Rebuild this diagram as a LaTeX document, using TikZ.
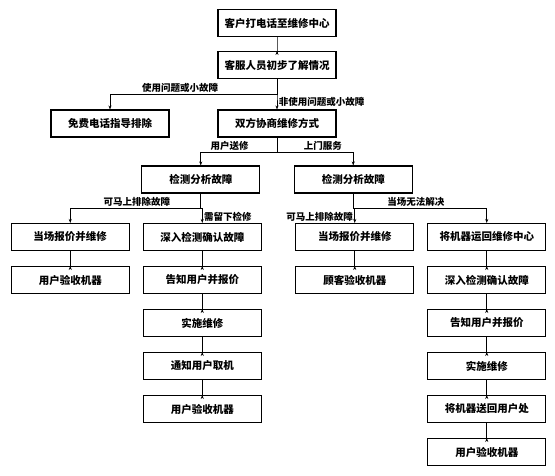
\documentclass[tikz,border=0pt]{standalone}
\usepackage{fontspec}
\setmainfont{Noto Sans CJK SC}
\usetikzlibrary{arrows.meta}

\tikzset{b/.style={draw,line width=1.1pt,minimum width=118pt,minimum height=27pt,inner sep=0pt,
  font=\bfseries\fontsize{10.5}{12}\selectfont}}
\tikzset{e/.style={inner sep=1.5pt,font=\bfseries\fontsize{9.5}{11}\selectfont}}

\begin{document}
\begin{tikzpicture}
  [x=1pt,y=1pt,
  edge from parent/.style={draw,line width=0.6pt,-{Stealth[length=4pt,width=3pt]}},
  edge from parent path={(\tikzparentnode.south) -- ++(0,-15pt) -| (\tikzchildnode.north)},
  every child node/.style={b},
  level 1/.style={level distance=42pt},
  level 2/.style={level distance=58.5pt,sibling distance=167pt},
  level 3/.style={level distance=56pt,sibling distance=152.5pt},
  level 4/.style={level distance=57.5pt,sibling distance=132pt},
  level 5/.style={level distance=43pt},
  level 6/.style={level distance=43pt},
  level 7/.style={level distance=43pt},
  level 8/.style={level distance=43pt},
  level 9/.style={level distance=43pt}]
  \useasboundingbox (0,0) rectangle (555,-475);
  \node[b] (call) at (277,-23) {客户打电话至维修中心}
    child { node (intake) {客服人员初步了解情况}
      child[xshift=-83.5pt] { node (phonefix) {免费电话指导排除}
        edge from parent node[e,pos=0.29,above] {使用问题或小故障}
      }
      child[xshift=-83.5pt] { node (negotiate) {双方协商维修方式}
        child { node (checkL) {检测分析故障}
          child[xshift=-64.5pt] { node (quoteA) {当场报价并维修}
            child { node (acceptA) {用户验收机器} }
            edge from parent node[e,pos=0.245,above] {可马上排除故障}
          }
          child[xshift=-64.5pt] { node (deepB) {深入检测确认故障}
            child { node (informB) {告知用户并报价}
              child { node (repairB) {实施维修}
                child { node (notifyB) {通知用户取机}
                  child { node (acceptB) {用户验收机器} }
                }
              }
            }
            edge from parent node[e,pos=0.8,right] {需留下检修}
          }
          edge from parent node[e,pos=0.31,above] {用户送修}
        }
        child { node (checkR) {检测分析故障}
          child[xshift=67.5pt] { node (quoteC) {当场报价并维修}
            child { node (acceptC) {顾客验收机器} }
            edge from parent node[e,pos=0.8,left] {可马上排除故障}
          }
          child[xshift=67.5pt] { node (returnD) {将机器运回维修中心}
            child { node (deepD) {深入检测确认故障}
              child { node (informD) {告知用户并报价}
                child { node (repairD) {实施维修}
                  child { node (backD) {将机器送回用户处}
                    child { node (acceptD) {用户验收机器} }
                  }
                }
              }
            }
            edge from parent node[e,pos=0.235,above] {当场无法解决}
          }
          edge from parent node[e,pos=0.3,above] {上门服务}
        }
        edge from parent node[e,pos=0.75,right] {非使用问题或小故障}
      }
    };
\end{tikzpicture}
\end{document}
